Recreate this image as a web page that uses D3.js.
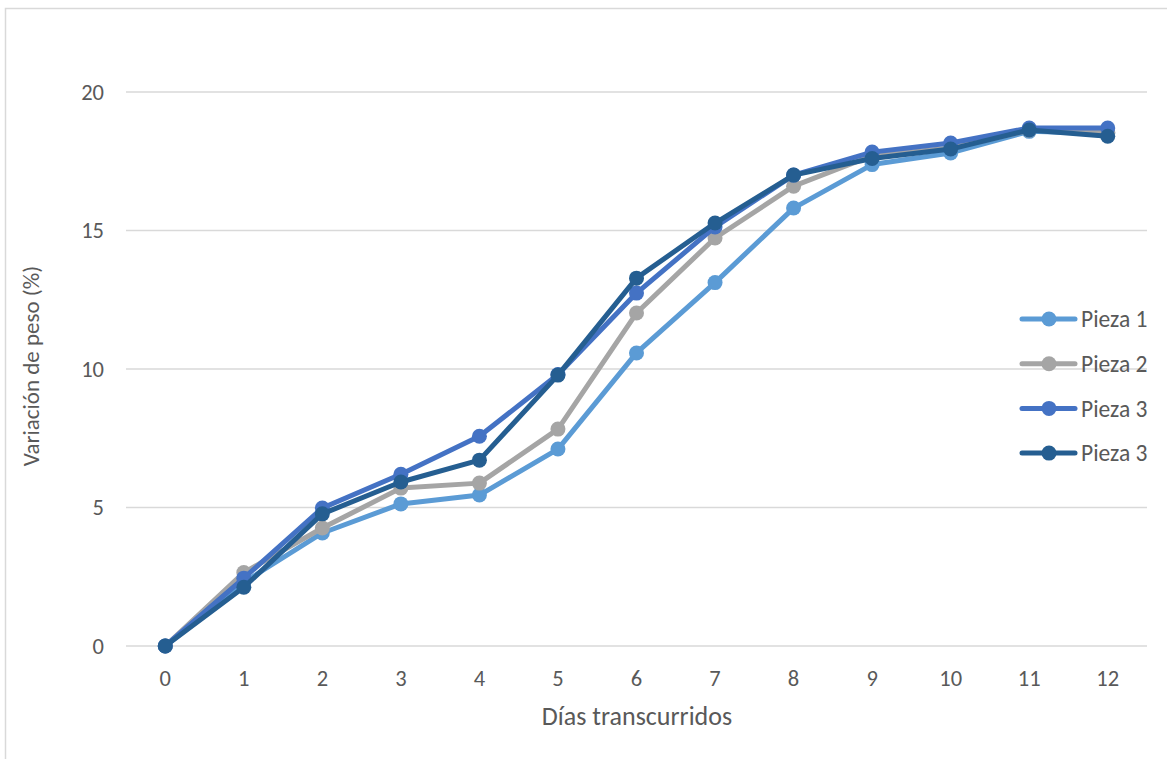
<!DOCTYPE html>
<html>
<head>
<meta charset="utf-8">
<script src="https://cdn.jsdelivr.net/npm/d3@7"></script>
<style>
  body { margin: 0; background: #fff; }
  svg text { font-family: Carlito, Calibri, Lato, sans-serif; fill: #595959; }
</style>
</head>
<body>
<svg id="chart" width="1167" height="759"></svg>
<script>
var days = [0, 1, 2, 3, 4, 5, 6, 7, 8, 9, 10, 11, 12];
var yTicks = [0, 5, 10, 15, 20];
var names = ["Pieza 1", "Pieza 2", "Pieza 3", "Pieza 3"];
var colors = ["#5B9BD5", "#A5A5A5", "#4472C4", "#255E91"];

var pieza1 = [0, 2.3, 4.08, 5.13, 5.45, 7.11, 10.58, 13.12, 15.81, 17.38, 17.8, 18.58, 18.5];
var pieza2 = [0, 2.65, 4.26, 5.7, 5.88, 7.83, 12.02, 14.73, 16.6, 17.7, 17.98, 18.62, 18.55];
var pieza3 = [0, 2.45, 4.98, 6.2, 7.57, 9.8, 12.74, 15.13, 17.0, 17.83, 18.16, 18.7, 18.7];
var pieza4 = [0, 2.12, 4.77, 5.92, 6.71, 9.78, 13.28, 15.27, 17.0, 17.6, 17.94, 18.63, 18.4];

var series = [pieza1, pieza2, pieza3, pieza4];

var svg = d3.select("#chart");

// chart frame
svg.append("rect")
  .attr("x", 5.5).attr("y", 8.5)
  .attr("width", 1200).attr("height", 800)
  .attr("fill", "none")
  .attr("stroke", "#D9D9D9")
  .attr("stroke-width", 1.5);

var x = d3.scaleBand().domain(days).range([126, 1147]);
var y = d3.scaleLinear().domain([0, 20]).range([646, 92]);
var cx = d => x(d) + x.bandwidth() / 2;

// gridlines
svg.append("g").selectAll("line").data(yTicks).enter().append("line")
  .attr("x1", 126).attr("x2", 1147)
  .attr("y1", d => y(d)).attr("y2", d => y(d))
  .attr("stroke", "#D9D9D9")
  .attr("stroke-width", 1.5);

// y tick labels
svg.append("g").selectAll("text").data(yTicks).enter().append("text")
  .attr("x", 104)
  .attr("y", d => y(d))
  .attr("dy", "0.35em")
  .attr("text-anchor", "end")
  .attr("font-size", "22.5px")
  .text(d => d);

// x tick labels
svg.append("g").selectAll("text").data(days).enter().append("text")
  .attr("x", d => cx(d))
  .attr("y", 678)
  .attr("dy", "0.35em")
  .attr("text-anchor", "middle")
  .attr("font-size", "22.5px")
  .text(d => d);

// axis titles
svg.append("text")
  .attr("x", 637).attr("y", 716)
  .attr("dy", "0.35em")
  .attr("text-anchor", "middle")
  .attr("font-size", "26px")
  .text("Días transcurridos");

svg.append("text")
  .attr("transform", "translate(31,366) rotate(-90)")
  .attr("dy", "0.35em")
  .attr("text-anchor", "middle")
  .attr("font-size", "23px")
  .text("Variación de peso (%)");

// lines
var line = d3.line().x((d, i) => cx(days[i])).y(d => y(d));

series.forEach(function (s, k) {
  var g = svg.append("g");
  g.append("path")
    .attr("d", line(s))
    .attr("fill", "none")
    .attr("stroke", colors[k])
    .attr("stroke-width", 5)
    .attr("stroke-linejoin", "round")
    .attr("stroke-linecap", "round");
  g.selectAll("circle").data(s).enter().append("circle")
    .attr("cx", (d, i) => cx(days[i]))
    .attr("cy", d => y(d))
    .attr("r", 7.5)
    .attr("fill", colors[k]);
});

// legend
var leg = svg.append("g").selectAll("g").data(names).enter().append("g")
  .attr("transform", (d, i) => "translate(1022," + (319 + i * 44.7) + ")");
leg.append("line")
  .attr("x1", 0).attr("x2", 53)
  .attr("stroke", (d, i) => colors[i])
  .attr("stroke-width", 5)
  .attr("stroke-linecap", "round");
leg.append("circle")
  .attr("cx", 27).attr("r", 7.5)
  .attr("fill", (d, i) => colors[i]);
leg.append("text")
  .attr("x", 59)
  .attr("dy", "0.35em")
  .attr("font-size", "23.5px")
  .text(d => d);
</script>
</body>
</html>
